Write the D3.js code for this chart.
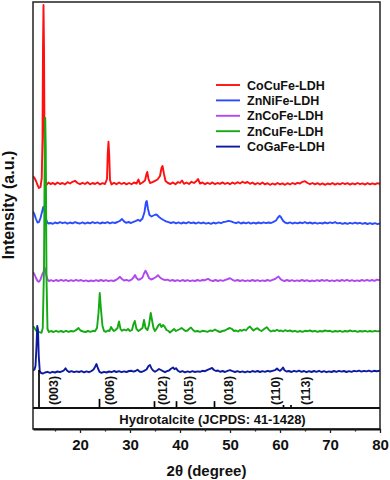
<!DOCTYPE html>
<html>
<head>
<meta charset="utf-8">
<script src="https://cdn.jsdelivr.net/npm/d3@7"></script>
<style>
  html, body { margin: 0; padding: 0; background: #fff; }
  svg { display: block; font-family: "Liberation Sans", Arial, sans-serif; font-weight: bold; }
</style>
</head>
<body>
<div id="chart"></div>
<script>
// XRD patterns, [2theta, intensity a.u.] (stacked as plotted)
const cocufe = [[10.6,2320],[10.9,2300],[11.2,2270],[11.5,2230],[11.8,2200],[12.1,2210],[12.35,2300],[12.5,2700],[12.6,3600],[12.7,4030],[12.8,3600],[12.9,2700],[13.05,2300],[13.3,2230],[13.7,2255],[14.1,2240],[14.6,2250],[15.0,2235],[15.5,2255],[16.0,2240],[16.5,2250],[17.0,2236],[17.5,2258],[18.0,2245],[18.5,2262],[19.0,2272],[19.5,2250],[20.0,2238],[20.5,2252],[21.0,2240],[21.5,2258],[22.0,2236],[22.5,2250],[23.0,2240],[23.5,2255],[24.0,2236],[24.5,2248],[25.0,2240],[25.4,2290],[25.55,2550],[25.7,2663],[25.85,2520],[26.0,2280],[26.3,2236],[26.8,2252],[27.3,2238],[27.8,2255],[28.3,2240],[28.8,2252],[29.3,2236],[29.8,2250],[30.3,2238],[30.8,2255],[31.3,2245],[31.7,2285],[32.0,2240],[32.5,2255],[33.0,2275],[33.3,2340],[33.45,2360],[33.7,2290],[34.0,2250],[34.5,2258],[35.0,2272],[35.5,2285],[36.0,2320],[36.3,2400],[36.5,2420],[36.8,2340],[37.1,2270],[37.6,2250],[38.1,2240],[38.6,2256],[39.1,2238],[39.6,2260],[40.0,2250],[40.4,2275],[40.8,2242],[41.3,2255],[41.8,2240],[42.3,2262],[42.8,2250],[43.3,2270],[43.6,2290],[44.0,2245],[44.5,2255],[45.0,2238],[45.5,2252],[46.0,2240],[46.5,2256],[47.0,2238],[47.5,2250],[48.0,2242],[48.5,2256],[49.0,2240],[49.5,2252],[50.0,2238],[50.5,2255],[51.0,2242],[51.5,2258],[52.0,2245],[52.5,2262],[53.0,2250],[53.5,2260],[54.0,2242],[54.5,2255],[55.0,2236],[55.5,2250],[56.0,2238],[56.5,2255],[57.0,2236],[57.5,2248],[58.0,2232],[58.5,2245],[59.0,2234],[59.5,2250],[60.0,2236],[60.5,2246],[61.0,2232],[61.5,2248],[62.0,2235],[62.5,2250],[63.0,2238],[63.5,2252],[64.0,2245],[64.5,2262],[65.0,2268],[65.5,2250],[66.0,2238],[66.5,2250],[67.0,2236],[67.5,2248],[68.0,2234],[68.5,2246],[69.0,2232],[69.5,2245],[70.0,2236],[70.5,2250],[71.0,2234],[71.5,2246],[72.0,2236],[72.5,2250],[73.0,2238],[73.5,2248],[74.0,2234],[74.5,2246],[75.0,2236],[75.5,2250],[76.0,2238],[76.5,2246],[77.0,2234],[77.5,2248],[78.0,2236],[78.5,2246],[79.0,2236],[79.5,2248],[80.0,2240]];

const znnife = [[10.6,1965],[10.9,1935],[11.2,1890],[11.5,1855],[11.8,1860],[12.1,1900],[12.4,1960],[12.65,2010],[12.9,1975],[13.15,1900],[13.4,1860],[13.7,1845],[14.1,1850],[14.6,1842],[15.0,1855],[15.5,1846],[16.0,1858],[16.5,1848],[17.0,1856],[17.5,1844],[18.0,1855],[18.5,1846],[19.0,1858],[19.5,1850],[20.0,1845],[20.5,1856],[21.0,1844],[21.5,1855],[22.0,1846],[22.5,1858],[23.0,1848],[23.5,1856],[24.0,1845],[24.5,1855],[25.0,1848],[25.5,1858],[26.0,1846],[26.5,1856],[27.0,1850],[27.5,1860],[28.0,1872],[28.4,1890],[28.8,1866],[29.2,1852],[29.7,1860],[30.2,1850],[30.7,1862],[31.2,1872],[31.6,1882],[32.0,1870],[32.5,1895],[32.9,1960],[33.2,2060],[33.35,2070],[33.6,1990],[33.9,1930],[34.3,1915],[34.7,1925],[35.1,1935],[35.4,1932],[35.8,1910],[36.2,1895],[36.7,1880],[37.2,1866],[37.7,1858],[38.2,1850],[38.7,1858],[39.2,1846],[39.7,1856],[40.2,1845],[40.7,1855],[41.2,1846],[41.7,1858],[42.2,1848],[42.7,1855],[43.2,1845],[43.7,1856],[44.2,1846],[44.7,1855],[45.2,1844],[45.7,1852],[46.2,1842],[46.7,1854],[47.2,1845],[47.7,1856],[48.2,1848],[48.7,1860],[49.2,1864],[49.7,1872],[50.2,1866],[50.7,1856],[51.2,1848],[51.7,1858],[52.2,1845],[52.7,1855],[53.2,1846],[53.7,1856],[54.2,1844],[54.7,1853],[55.2,1845],[55.7,1855],[56.2,1846],[56.7,1856],[57.2,1848],[57.7,1855],[58.2,1850],[58.7,1862],[59.2,1875],[59.6,1905],[59.9,1922],[60.2,1908],[60.6,1872],[61.0,1855],[61.5,1846],[62.0,1856],[62.5,1845],[63.0,1854],[63.5,1846],[64.0,1855],[64.5,1848],[65.0,1858],[65.5,1846],[66.0,1855],[66.5,1845],[67.0,1854],[67.5,1844],[68.0,1852],[68.5,1845],[69.0,1855],[69.5,1846],[70.0,1856],[70.5,1848],[71.0,1858],[71.5,1846],[72.0,1852],[72.5,1842],[73.0,1850],[73.5,1842],[74.0,1852],[74.5,1844],[75.0,1854],[75.5,1845],[76.0,1852],[76.5,1842],[77.0,1850],[77.5,1840],[78.0,1848],[78.5,1840],[79.0,1848],[79.5,1838],[80.0,1845]];

const zncofe = [[10.6,1360],[10.9,1335],[11.2,1300],[11.5,1270],[11.8,1262],[12.1,1285],[12.4,1330],[12.7,1365],[12.95,1400],[13.2,1340],[13.5,1285],[13.8,1268],[14.2,1278],[14.7,1268],[15.2,1280],[15.7,1270],[16.2,1282],[16.7,1272],[17.2,1280],[17.7,1268],[18.2,1278],[18.7,1270],[19.2,1282],[19.7,1272],[20.2,1280],[20.7,1268],[21.2,1276],[21.7,1266],[22.2,1275],[22.7,1268],[23.2,1278],[23.7,1270],[24.2,1280],[24.7,1270],[25.2,1278],[25.7,1268],[26.2,1276],[26.7,1270],[27.2,1280],[27.6,1295],[28.0,1312],[28.4,1290],[28.8,1275],[29.3,1282],[29.8,1272],[30.3,1284],[30.7,1305],[31.0,1330],[31.3,1300],[31.7,1282],[32.1,1290],[32.5,1305],[32.8,1345],[33.1,1373],[33.4,1345],[33.8,1300],[34.2,1285],[34.7,1295],[35.2,1310],[35.6,1328],[36.0,1305],[36.5,1288],[37.0,1278],[37.5,1284],[38.0,1272],[38.5,1280],[39.0,1270],[39.5,1278],[40.0,1268],[40.5,1280],[41.0,1270],[41.5,1278],[42.0,1268],[42.5,1276],[43.0,1270],[43.5,1280],[44.0,1272],[44.5,1280],[45.0,1278],[45.6,1292],[46.1,1276],[46.6,1270],[47.1,1280],[47.6,1270],[48.1,1278],[48.6,1272],[49.1,1282],[49.6,1290],[50.0,1298],[50.5,1282],[51.0,1272],[51.5,1280],[52.0,1270],[52.5,1278],[53.0,1268],[53.5,1276],[54.0,1270],[54.5,1280],[55.0,1270],[55.5,1278],[56.0,1268],[56.5,1276],[57.0,1270],[57.5,1280],[58.0,1272],[58.5,1282],[59.0,1290],[59.4,1305],[59.7,1315],[60.0,1295],[60.4,1278],[60.9,1270],[61.4,1280],[61.9,1270],[62.4,1278],[62.9,1268],[63.4,1276],[63.9,1270],[64.4,1280],[64.9,1270],[65.4,1278],[65.9,1266],[66.4,1275],[66.9,1268],[67.4,1278],[67.9,1270],[68.4,1280],[68.9,1272],[69.4,1280],[69.9,1268],[70.4,1276],[70.9,1268],[71.4,1278],[71.9,1270],[72.4,1280],[72.9,1272],[73.4,1282],[73.9,1270],[74.4,1278],[74.9,1268],[75.4,1276],[75.9,1270],[76.4,1280],[76.9,1272],[77.4,1282],[77.9,1272],[78.4,1280],[78.9,1272],[79.4,1284],[80.0,1278]];

const zncufe = [[10.6,820],[10.9,800],[11.2,775],[11.5,765],[11.9,758],[12.3,752],[12.55,800],[12.8,1400],[12.95,2600],[13.05,2900],[13.15,2600],[13.3,1300],[13.5,790],[13.8,760],[14.2,770],[14.7,760],[15.2,772],[15.7,762],[16.2,770],[16.7,760],[17.2,772],[17.7,762],[18.2,770],[18.7,765],[19.2,778],[19.7,800],[20.1,775],[20.6,765],[21.1,760],[21.6,770],[22.1,762],[22.6,772],[23.0,768],[23.4,800],[23.7,950],[23.95,1150],[24.2,980],[24.5,820],[24.8,770],[25.2,762],[25.6,775],[25.9,770],[26.2,810],[26.5,785],[26.8,770],[27.1,780],[27.5,800],[27.8,865],[28.1,790],[28.4,772],[28.8,785],[29.2,775],[29.6,790],[30.0,770],[30.4,780],[30.7,840],[30.95,870],[31.3,790],[31.7,770],[32.1,785],[32.5,800],[32.8,880],[33.1,800],[33.5,780],[33.8,830],[34.15,950],[34.4,880],[34.7,800],[35.0,770],[35.4,800],[35.7,830],[36.0,840],[36.3,810],[36.6,830],[36.9,815],[37.3,780],[37.7,770],[38.0,755],[38.4,772],[38.8,790],[39.2,770],[39.6,780],[40.0,790],[40.3,800],[40.7,785],[41.1,770],[41.5,775],[41.9,795],[42.2,805],[42.6,780],[43.0,765],[43.5,770],[44.0,762],[44.5,772],[45.0,768],[45.5,762],[46.0,775],[46.5,770],[47.0,785],[47.5,770],[48.0,760],[48.5,770],[49.0,775],[49.5,790],[50.0,800],[50.4,790],[50.8,770],[51.2,775],[51.6,765],[52.0,780],[52.4,772],[52.8,785],[53.2,775],[53.6,800],[54.0,815],[54.3,795],[54.7,775],[55.1,790],[55.5,798],[55.9,780],[56.3,770],[56.7,785],[57.1,800],[57.4,808],[57.8,780],[58.2,765],[58.6,775],[59.0,770],[59.4,782],[59.8,770],[60.2,775],[60.6,765],[61.0,778],[61.5,768],[62.0,775],[62.5,765],[63.0,772],[63.5,762],[64.0,770],[64.5,762],[65.0,772],[65.5,768],[66.0,775],[66.5,765],[67.0,772],[67.5,762],[68.0,770],[68.5,765],[69.0,775],[69.5,768],[70.0,772],[70.5,762],[71.0,770],[71.5,765],[72.0,772],[72.5,762],[73.0,770],[73.5,765],[74.0,775],[74.5,766],[75.0,772],[75.5,762],[76.0,770],[76.5,765],[77.0,772],[77.5,764],[78.0,770],[78.5,764],[79.0,772],[79.5,766],[80.0,770]];

const cogafe = [[10.6,380],[10.9,385],[11.1,420],[11.3,620],[11.45,820],[11.6,780],[11.75,520],[11.95,370],[12.2,350],[12.6,345],[13.0,355],[13.5,362],[14.0,352],[14.5,362],[15.0,355],[15.5,365],[16.0,358],[16.5,368],[16.8,378],[17.1,398],[17.4,375],[17.8,360],[18.3,368],[18.8,358],[19.3,366],[19.8,360],[20.3,368],[20.8,356],[21.3,366],[21.8,358],[22.3,370],[22.7,385],[23.0,410],[23.3,440],[23.6,395],[23.9,362],[24.3,352],[24.8,362],[25.3,355],[25.8,365],[26.3,358],[26.8,370],[27.3,360],[27.8,368],[28.3,358],[28.8,366],[29.3,360],[29.8,370],[30.3,372],[30.7,364],[31.1,370],[31.5,382],[31.9,365],[32.3,360],[32.8,372],[33.3,385],[33.7,420],[34.0,430],[34.3,395],[34.7,372],[35.0,362],[35.4,375],[35.8,390],[36.2,380],[36.6,368],[37.0,358],[37.4,368],[37.8,375],[38.2,392],[38.6,405],[38.9,388],[39.2,398],[39.6,372],[40.0,360],[40.5,368],[41.0,356],[41.5,366],[42.0,358],[42.5,368],[43.0,360],[43.5,366],[44.0,362],[44.5,372],[45.0,368],[45.5,382],[46.0,392],[46.4,400],[46.8,380],[47.2,370],[47.6,375],[48.0,362],[48.5,370],[49.0,360],[49.5,372],[50.0,378],[50.5,368],[51.0,360],[51.5,368],[52.0,358],[52.5,366],[53.0,356],[53.5,366],[54.0,358],[54.5,370],[55.0,362],[55.5,370],[56.0,360],[56.5,368],[57.0,362],[57.5,372],[58.0,365],[58.5,372],[59.0,378],[59.4,395],[59.7,380],[60.0,372],[60.3,385],[60.6,405],[60.9,378],[61.3,365],[61.8,370],[62.3,360],[62.8,372],[63.3,364],[63.8,374],[64.3,362],[64.8,370],[65.3,358],[65.8,368],[66.3,360],[66.8,370],[67.3,362],[67.8,372],[68.3,360],[68.8,368],[69.3,358],[69.8,366],[70.3,360],[70.8,370],[71.3,362],[71.8,372],[72.3,364],[72.8,370],[73.3,360],[73.8,368],[74.3,362],[74.8,372],[75.3,366],[75.8,374],[76.3,364],[76.8,372],[77.3,366],[77.8,374],[78.3,364],[78.8,372],[79.3,368],[80.0,372]];

const seriesNames = ["CoCuFe-LDH", "ZnNiFe-LDH", "ZnCoFe-LDH", "ZnCuFe-LDH", "CoGaFe-LDH"];
const seriesData = [cocufe, znnife, zncofe, zncufe, cogafe];
const seriesColors = ["#ff1010", "#2a4cff", "#b048f0", "#14aa14", "#0c1aa0"];

// hydrotalcite reference (JCPDS 41-1428)
const refHkl = ["(003)", "(006)", "(012)", "(015)", "(018)", "(110)", "(113)"];
const refPos = [11.8, 23.9, 34.9, 39.3, 46.9, 60.7, 62.2];
const refInt = [100, 24, 18, 18, 18, 8, 8];
const refLabelPos = [14.6, 25.9, 36.5, 41.6, 49.6, 59.0, 65.0];

const xTicks = [20, 30, 40, 50, 60, 70, 80];
const xMinor = [15, 25, 35, 45, 55, 65, 75];

const W = 390, H = 480;
const plotLeft = 33, plotRight = 380, plotTop = 2, mainBottom = 408, plotBottom = 429;

const svg = d3.select("#chart").append("svg").attr("width", W).attr("height", H);

const x = d3.scaleLinear().domain([10.6, 80]).range([plotLeft, plotRight]);
const y = d3.scaleLinear().domain([0, 4060]).range([mainBottom, plotTop]);
const yRef = d3.scaleLinear().domain([0, 100]).range([mainBottom, 370]);

svg.append("defs").append("clipPath").attr("id", "clip")
  .append("rect").attr("x", plotLeft).attr("y", plotTop)
  .attr("width", plotRight - plotLeft).attr("height", mainBottom - plotTop);

const line = d3.line().x((d) => x(d[0])).y((d) => y(d[1]));

// patterns
const traces = svg.append("g").attr("clip-path", "url(#clip)");
seriesData.forEach((data, i) => {
  traces.append("path")
    .datum(data)
    .attr("d", line)
    .attr("fill", "none")
    .attr("stroke", seriesColors[i])
    .attr("stroke-width", 1.9)
    .attr("stroke-linejoin", "round");
});

// reference sticks
svg.append("g").selectAll("line").data(refPos).join("line")
  .attr("x1", (d) => x(d)).attr("x2", (d) => x(d))
  .attr("y1", mainBottom).attr("y2", (d, i) => yRef(refInt[i]))
  .attr("stroke", "#000").attr("stroke-width", 1.7);

svg.append("g").selectAll("text").data(refHkl).join("text")
  .attr("transform", (d, i) => `translate(${x(refLabelPos[i])},405) rotate(-90)`)
  .attr("dy", "0.36em")
  .attr("font-size", 12.5)
  .attr("fill", "#111")
  .text((d) => d);

// frame + reference panel
svg.append("rect").attr("x", plotLeft).attr("y", plotTop)
  .attr("width", plotRight - plotLeft).attr("height", plotBottom - plotTop)
  .attr("fill", "none").attr("stroke", "#222").attr("stroke-width", 1.5);
svg.append("line").attr("x1", plotLeft).attr("x2", plotRight).attr("y1", mainBottom).attr("y2", mainBottom)
  .attr("stroke", "#111").attr("stroke-width", 1.8);
svg.append("text")
  .attr("x", (plotLeft + plotRight) / 2 + 6).attr("y", 419).attr("dy", "0.36em")
  .attr("text-anchor", "middle").attr("font-size", 13).attr("fill", "#111")
  .text("Hydrotalcite (JCPDS: 41-1428)");

// x axis
const xAxis = svg.append("g").attr("transform", `translate(0,${plotBottom})`)
  .call(d3.axisBottom(x).tickValues(xTicks).tickSize(4).tickSizeOuter(0).tickPadding(6));
xAxis.select(".domain").attr("stroke", "#111").attr("stroke-width", 1.8);
xAxis.selectAll(".tick line").attr("stroke", "#222").attr("stroke-width", 1.3);
xAxis.selectAll(".tick text")
  .attr("font-family", "Liberation Sans, Arial, sans-serif")
  .attr("font-weight", "bold").attr("font-size", 15).attr("fill", "#111");

svg.append("g").attr("transform", `translate(0,${plotBottom})`)
  .call(d3.axisBottom(x).tickValues(xMinor).tickSize(2.5).tickFormat(""))
  .call((g) => g.select(".domain").remove())
  .selectAll(".tick line").attr("stroke", "#222").attr("stroke-width", 1.3);

// axis titles
svg.append("text")
  .attr("x", (plotLeft + plotRight) / 2).attr("y", 476)
  .attr("text-anchor", "middle").attr("font-size", 15).attr("fill", "#111")
  .text("2θ (degree)");

svg.append("text")
  .attr("transform", "translate(14,205) rotate(-90)")
  .attr("text-anchor", "middle").attr("font-size", 16).attr("fill", "#111")
  .text("Intensity (a.u.)");

// legend
const legend = svg.append("g").attr("transform", "translate(216,85)");
seriesNames.forEach((name, i) => {
  const row = legend.append("g").attr("transform", `translate(0,${i * 15.4})`);
  row.append("line").attr("x1", 0).attr("x2", 24).attr("y1", 0).attr("y2", 0)
    .attr("stroke", seriesColors[i]).attr("stroke-width", 1.9);
  row.append("text").attr("x", 31).attr("y", 0).attr("dy", "0.36em")
    .attr("font-size", 12.5).attr("fill", "#111").text(name);
});
</script>
</body>
</html>
